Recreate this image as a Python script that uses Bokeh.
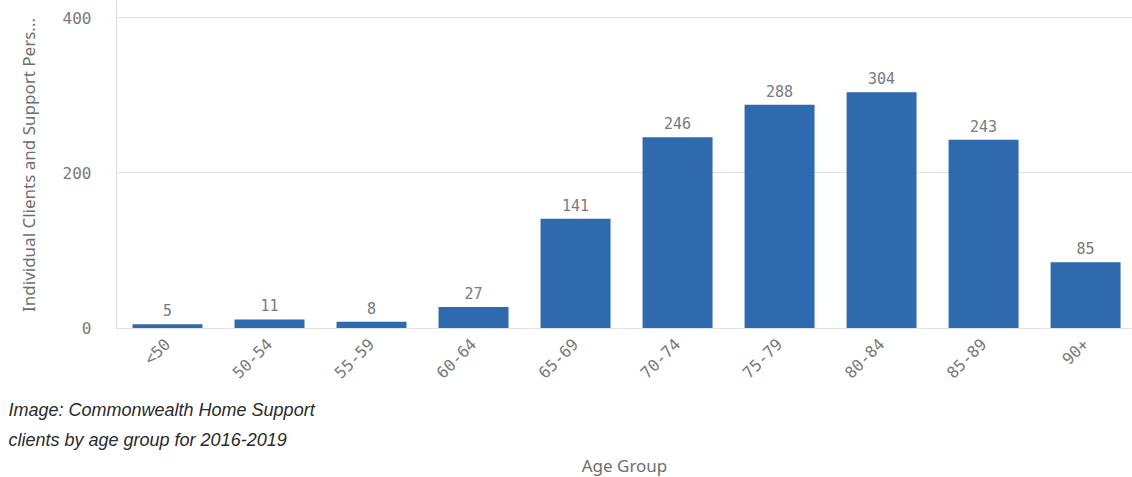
import math
from bokeh.plotting import figure
from bokeh.models import Range1d, FixedTicker, Title, ColumnDataSource
from bokeh.core.properties import value
from bokeh.embed import file_html
from bokeh.resources import INLINE

# Data
age_groups = ["<50", "50-54", "55-59", "60-64", "65-69", "70-74", "75-79", "80-84", "85-89", "90+"]
clients = [5, 11, 8, 27, 141, 246, 288, 304, 243, 85]
y_ticks = [0, 200, 400]
caption_lines = ["Image: Commonwealth Home Support", "clients by age group for 2016-2019"]
x_title = "Age Group"
y_title = "Individual Clients and Support Pers..."

BLUE = "#2e6aad"
GRAY = "#7a7a7a"

xs = list(range(len(age_groups)))
src = ColumnDataSource(dict(x=xs, v=clients, lab=[str(c) for c in clients]))

p = figure(width=1132, height=477, output_backend="svg", toolbar_location=None,
           x_range=Range1d(-0.5, 9.46), y_range=Range1d(-1.9, 422.5),
           min_border_left=116, min_border_right=0, min_border_top=0, min_border_bottom=0,
           background_fill_color="white", border_fill_color="white")
p.outline_line_color = None

p.vbar(x="x", top="v", width=0.686, bottom=0, source=src, fill_color=BLUE, line_color=None)
p.text(x="x", y="v", text="lab", source=src, text_align="center", text_baseline="bottom",
       y_offset=-8, text_font=value("DejaVu Sans Mono"), text_font_size="15px", text_color=GRAY)

# y axis
p.yaxis.ticker = FixedTicker(ticks=y_ticks)
p.yaxis.major_tick_line_color = None
p.yaxis.minor_tick_line_color = None
p.yaxis.axis_line_color = "#dcdcdc"
p.yaxis.major_label_text_font = "DejaVu Sans Mono"
p.yaxis.major_label_text_font_size = "16px"
p.yaxis.major_label_text_color = GRAY
p.yaxis.major_label_standoff = 19
p.yaxis.axis_label = y_title
p.yaxis.axis_label_text_font = "Noto Sans"
p.yaxis.axis_label_text_font_style = "normal"
p.yaxis.axis_label_text_font_size = "17px"
p.yaxis.axis_label_text_color = "#6e6e6e"
p.yaxis.axis_label_standoff = 20

# x axis
p.xaxis.ticker = FixedTicker(ticks=xs)
p.xaxis.major_label_overrides = {i: g for i, g in zip(xs, age_groups)}
p.xaxis.major_label_orientation = math.pi / 4
p.xaxis.major_tick_line_color = None
p.xaxis.minor_tick_line_color = None
p.xaxis.axis_line_color = None
p.xaxis.major_label_text_font = "DejaVu Sans Mono"
p.xaxis.major_label_text_font_size = "16px"
p.xaxis.major_label_text_color = GRAY
p.xaxis.major_label_standoff = 6

p.xgrid.grid_line_color = None
p.ygrid.ticker = FixedTicker(ticks=y_ticks)
p.ygrid.grid_line_color = "#e2e2e2"

for line, so in zip(caption_lines, [12, 4]):
    t = Title(text=line, align="left", offset=-108, text_font="Liberation Sans",
              text_font_style="italic", text_font_size="18px", text_color="#2a2a2a",
              standoff=so)
    p.add_layout(t, "below")

t_age = Title(text=x_title, align="center", text_font="Noto Sans", text_font_style="normal",
              text_font_size="17px", text_color="#6e6e6e", standoff=1)
p.add_layout(t_age, "below")

open("out.html", "w").write(file_html(p, INLINE))
